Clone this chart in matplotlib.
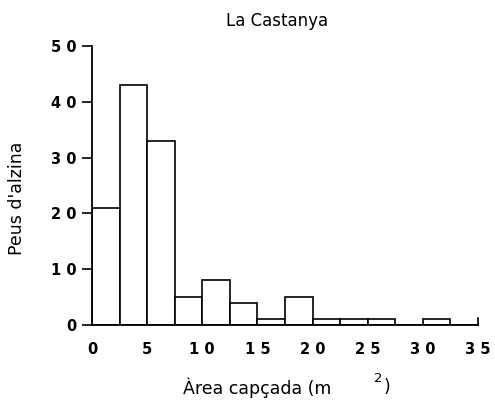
import matplotlib
matplotlib.use('Agg')
from matplotlib import pyplot as plt
import numpy as np

# Histogram of crown area, bins of 2.5 m2
bin_edges = [0, 2.5, 5, 7.5, 10, 12.5, 15, 17.5, 20, 22.5, 25, 27.5, 30, 32.5]
counts = [21, 43, 33, 5, 8, 4, 1, 5, 1, 1, 1, 0, 1, 0]
xticks = [0, 5, 10, 15, 20, 25, 30, 35]
xtick_labels = ['0', '5', '1 0', '1 5', '2 0', '2 5', '3 0', '3 5']
yticks = [0, 10, 20, 30, 40, 50]
ytick_labels = ['0', '1 0', '2 0', '3 0', '4 0', '5 0']

plt.rcParams['font.family'] = ['DejaVu Sans']

fig = plt.figure(figsize=(4.95, 4.0), dpi=100)
ax = fig.add_axes([92 / 495, 75 / 400, 386 / 495, 279 / 400])

ax.bar(bin_edges, counts, width=2.5, align='edge', facecolor='white',
       edgecolor='black', linewidth=1.2)

ax.set_xlim(0, 35)
ax.set_ylim(0, 50)
ax.spines['top'].set_visible(False)
ax.spines['right'].set_visible(False)
ax.spines['left'].set_linewidth(1.3)
ax.spines['bottom'].set_linewidth(1.3)

ax.set_yticks(yticks)
ax.set_yticklabels(ytick_labels, fontsize=10.5, fontweight='bold')
ax.set_xticks(xticks)
ax.set_xticklabels(xtick_labels, fontsize=10.5, fontweight='bold')
ax.tick_params(axis='y', length=7, width=1.2, pad=4)
ax.tick_params(axis='x', length=0, pad=12)
ax.plot([35, 35], [0, 1.2], color='black', lw=1.2, clip_on=False)

fig.text(277 / 495, 1 - 21 / 400, 'La Castanya', ha='center', va='center',
         fontsize=12)
fig.text(17 / 495, 1 - 198 / 400, "Peus d'alzina", ha='center', va='center',
         rotation=90, fontsize=12.5)
fig.text(183 / 495, 1 - 388 / 400, 'Àrea capçada (m', ha='left', va='center',
         fontsize=12.5)
fig.text(374 / 495, 1 - 378 / 400, '2', ha='left', va='center',
         fontsize=9.5)
fig.text(384 / 495, 1 - 387 / 400, ')', ha='left', va='center',
         fontsize=12.5)

fig.savefig('out.png', dpi=100)
